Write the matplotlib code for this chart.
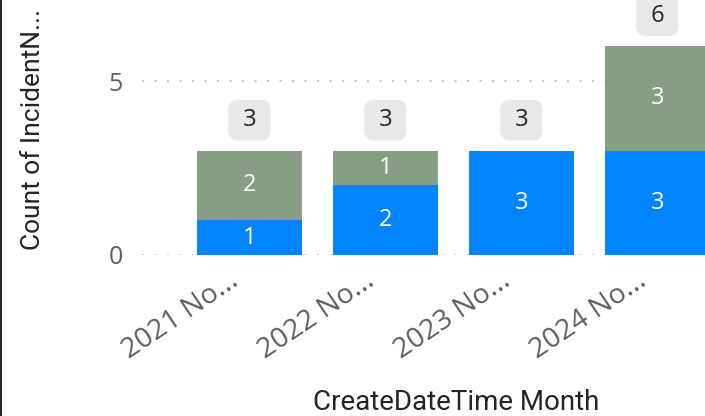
import numpy as np
import matplotlib.pyplot as plt
from matplotlib.lines import Line2D
import matplotlib.transforms as mtransforms

# data
months = ['2021 No...', '2022 No...', '2023 No...', '2024 No...']
blue_vals = [1, 2, 3, 3]
green_vals = [2, 1, 0, 3]
y_ticks = [0, 5]

blue = '#0284FF'
green = '#879E84'
grey_txt = '#605E5C'

fig = plt.figure(figsize=(7.05, 4.16), dpi=100)
ax = fig.add_axes([142 / 705, 1 - 255 / 416, 1 - 142 / 705, 255 / 416])

x = np.arange(len(months))
blue_arr = np.array(blue_vals)
green_arr = np.array(green_vals)
totals = blue_arr + green_arr

ax.bar(x, blue_arr, width=0.77, color=blue, zorder=3)
ax.bar(x, green_arr, width=0.77, bottom=blue_arr, color=green, zorder=3)

# labels inside the segments
for i in range(len(x)):
    if blue_arr[i] > 0:
        ax.text(x[i], blue_arr[i] / 2, str(blue_arr[i]), ha='center', va='center',
                color='white', fontsize=17, family='Open Sans', zorder=4)
    if green_arr[i] > 0:
        ax.text(x[i], blue_arr[i] + green_arr[i] / 2, str(green_arr[i]), ha='center',
                va='center', color='white', fontsize=17, family='Open Sans', zorder=4)
    # total in a grey box above the bar
    ax.annotate(' %d ' % totals[i], xy=(x[i], totals[i]), xytext=(0, 22), textcoords='offset points',
                ha='center', va='center', fontsize=17, family='Open Sans', color='#252423',
                bbox=dict(boxstyle='round,pad=0.35,rounding_size=0.4', fc='#E8E8E8', ec='none'),
                zorder=5)

ax.set_xlim(-0.79, 3.35)
ax.set_ylim(0, 7.33)

ax.set_yticks(y_ticks)
ax.set_yticklabels([str(t) for t in y_ticks], fontsize=18, family='Open Sans', color=grey_txt)
ax.tick_params(axis='y', length=0, pad=14)
for t in y_ticks:
    ax.axhline(t, color='#CCCCCC', lw=1.5, ls=(0, (1, 5)), zorder=1)

ax.set_xticks(x)
ax.set_xticklabels(months, rotation=34, ha='right', va='top', rotation_mode='anchor',
                   fontsize=20.5, family='Open Sans', color=grey_txt)
ax.tick_params(axis='x', length=0, pad=18)
shift = mtransforms.ScaledTranslation(-21 / 100, 13 / 100, fig.dpi_scale_trans)
for lab in ax.get_xticklabels():
    lab.set_transform(lab.get_transform() + shift)

for s in ax.spines.values():
    s.set_visible(False)

fig.text(313 / 705, 1 - 402 / 416, 'CreateDateTime Month', ha='left', va='center',
         fontsize=20, family='Roboto', color='#252423')
fig.text(33 / 705, 1 - 129 / 416, 'Count of IncidentN...', ha='center', va='center',
         rotation=90, fontsize=19, family='Roboto', color='#252423')

# left frame edge
fig.add_artist(Line2D([0.002, 0.002], [0, 1], transform=fig.transFigure, color='#252423', lw=1.5))

fig.savefig('out.png', dpi=100)
